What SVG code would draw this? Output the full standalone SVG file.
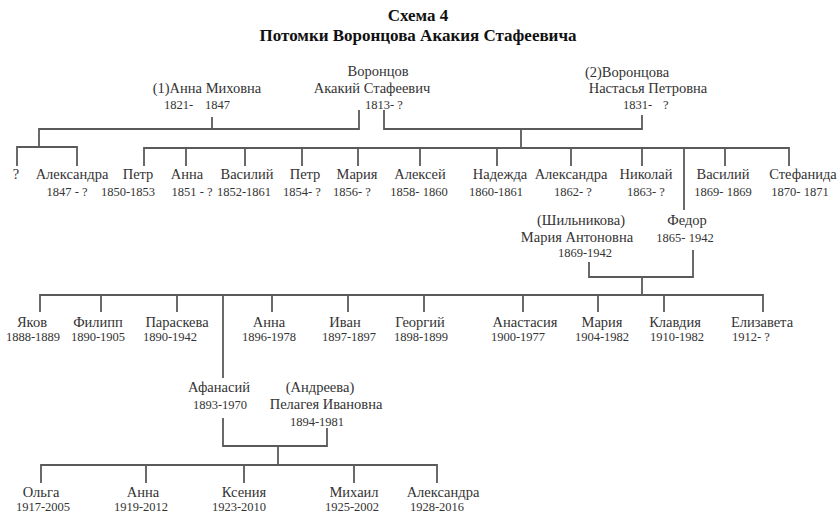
<svg xmlns="http://www.w3.org/2000/svg" width="840" height="513" viewBox="0 0 840 513">
<style>
text{font-family:"Liberation Serif","Times New Roman",serif;font-size:14.5px;fill:#333;text-anchor:middle}
.d{font-size:12.5px}
.s{text-anchor:start}
.t{font-weight:bold;font-size:17px;fill:#111}
.c path{stroke:#5a5a5a;stroke-width:1.8;fill:none}
</style>
<rect width="840" height="513" fill="#fff"/>
<g id="title">
<text class="t" x="418" y="21">Схема 4</text>
<text class="t" x="418" y="41">Потомки Воронцова Акакия Стафеевича</text>
</g>
<g class="c" id="connectors">
<path d="M212 117V129M359 110V129H39V147M17 166V147H77V166"/>
<path d="M384 110V129H642V115M521 129V148M144 166V148H789V166"/>
<path d="M186 148V166M245 148V166M302 148V166M358 148V166M420 148V166M497 148V166M571 148V166M642 148V166M725 148V166M684 148V210"/>
<path d="M589 262V277H693V250M642 277V295M40 312V295H763V312"/>
<path d="M101 295V312M177 295V312M272 295V312M348 295V312M424 295V312M523 295V312M598 295V312M664 295V312M223 295V378"/>
<path d="M223 418V446H327V428M278 446V465M41 483V465H437V483"/>
<path d="M146 465V483M244 465V483M354 465V483"/>
</g>
<g id="anna1"><text x="207" y="93">(1)Анна Миховна</text><text class="d s" x="164" y="109">1821-<tspan x="205">1847</tspan></text></g>
<g id="akakiy"><text x="378" y="76">Воронцов</text><text x="372" y="93">Акакий Стафеевич</text><text class="d" x="384" y="109">1813- ?</text></g>
<g id="nastasya"><text x="627" y="77">(2)Воронцова</text><text x="648" y="93">Настасья Петровна</text><text class="d s" x="623" y="109">1831-<tspan x="663">?</tspan></text></g>
<g id="q"><text x="16" y="179">?</text></g>
<g id="aleksandra1"><text x="72" y="179">Александра</text><text class="d" x="67" y="196">1847 - ?</text></g>
<g id="petr1"><text x="138" y="179">Петр</text><text class="d" x="128" y="196">1850-1853</text></g>
<g id="anna2"><text x="187" y="179">Анна</text><text class="d" x="192" y="196">1851 - ?</text></g>
<g id="vasiliy1"><text x="247" y="179">Василий</text><text class="d" x="244" y="196">1852-1861</text></g>
<g id="petr2"><text x="305" y="179">Петр</text><text class="d" x="302" y="196">1854- ?</text></g>
<g id="mariya1"><text x="357" y="179">Мария</text><text class="d" x="352" y="196">1856- ?</text></g>
<g id="aleksey"><text x="420" y="179">Алексей</text><text class="d" x="419" y="196">1858- 1860</text></g>
<g id="nadezhda"><text x="500" y="179">Надежда</text><text class="d" x="496" y="196">1860-1861</text></g>
<g id="aleksandra2"><text x="571" y="179">Александра</text><text class="d" x="573" y="196">1862- ?</text></g>
<g id="nikolay"><text x="646" y="179">Николай</text><text class="d" x="646" y="196">1863- ?</text></g>
<g id="vasiliy2"><text x="723" y="179">Василий</text><text class="d" x="723" y="196">1869- 1869</text></g>
<g id="stefanida"><text x="803" y="179">Стефанида</text><text class="d" x="800" y="196">1870- 1871</text></g>
<g id="mariya2"><text x="581" y="225">(Шильникова)</text><text x="577" y="242">Мария Антоновна</text><text class="d" x="585" y="257">1869-1942</text></g>
<g id="fedor"><text x="687" y="225">Федор</text><text class="d" x="685" y="242">1865- 1942</text></g>
<g id="yakov"><text x="32" y="327">Яков</text><text class="d" x="33" y="341">1888-1889</text></g>
<g id="filipp"><text x="98" y="327">Филипп</text><text class="d" x="98" y="341">1890-1905</text></g>
<g id="paraskeva"><text x="177" y="327">Параскева</text><text class="d" x="170" y="341">1890-1942</text></g>
<g id="anna3"><text x="269" y="327">Анна</text><text class="d" x="269" y="341">1896-1978</text></g>
<g id="ivan"><text x="345" y="327">Иван</text><text class="d" x="349" y="341">1897-1897</text></g>
<g id="georgiy"><text x="420" y="327">Георгий</text><text class="d" x="421" y="341">1898-1899</text></g>
<g id="anastasiya"><text x="525" y="327">Анастасия</text><text class="d" x="518" y="341">1900-1977</text></g>
<g id="mariya3"><text x="602" y="327">Мария</text><text class="d" x="602" y="341">1904-1982</text></g>
<g id="klavdiya"><text x="675" y="327">Клавдия</text><text class="d" x="677" y="341">1910-1982</text></g>
<g id="elizaveta"><text x="762" y="327">Елизавета</text><text class="d s" x="732" y="341">1912- ?</text></g>
<g id="afanasiy"><text x="219" y="392">Афанасий</text><text class="d" x="220" y="409">1893-1970</text></g>
<g id="pelageya"><text x="320" y="392">(Андреева)</text><text x="326" y="409">Пелагея Ивановна</text><text class="d" x="317" y="426">1894-1981</text></g>
<g id="olga"><text x="41" y="497">Ольга</text><text class="d" x="43" y="511">1917-2005</text></g>
<g id="anna4"><text x="143" y="497">Анна</text><text class="d" x="141" y="511">1919-2012</text></g>
<g id="kseniya"><text x="244" y="497">Ксения</text><text class="d" x="239" y="511">1923-2010</text></g>
<g id="mikhail"><text x="354" y="497">Михаил</text><text class="d" x="352" y="511">1925-2002</text></g>
<g id="aleksandra3"><text x="443" y="497">Александра</text><text class="d" x="437" y="511">1928-2016</text></g>
</svg>
